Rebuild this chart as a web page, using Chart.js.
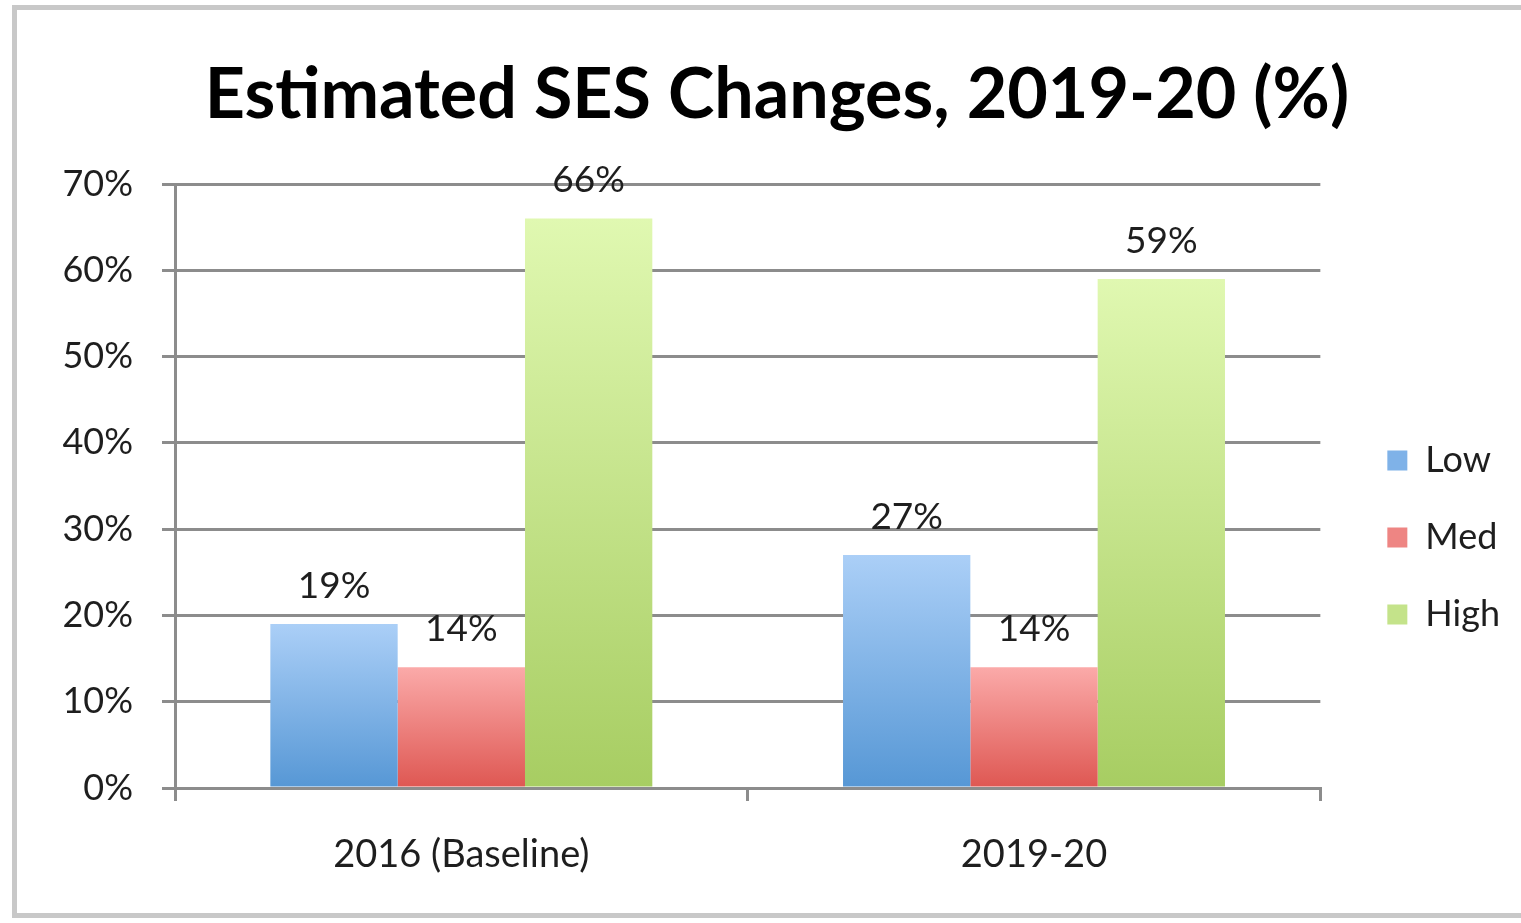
<!DOCTYPE html>
<html>
<head>
<meta charset="utf-8">
<title>Estimated SES Changes</title>
<script src="https://cdn.jsdelivr.net/npm/chart.js@4.4.1/dist/chart.umd.min.js"></script>
<style>
  html, body { margin: 0; padding: 0; background: #fff; overflow: hidden; }
  #frame { position: absolute; left: 12px; top: 5px; width: 1600px; height: 903px; border: 5px solid #c8c8c8; }
  #wrap { position: absolute; left: 0; top: 0; width: 1521px; height: 923px; }
</style>
</head>
<body>
<div id="frame"></div>
<div id="wrap"><canvas id="ses"></canvas></div>
<script>
const categories = ['2016 (Baseline)', '2019-20'];
const seriesNames = ['Low', 'Med', 'High'];
const lowValues = [19, 27];
const medValues = [14, 14];
const highValues = [66, 59];
const yTickValues = [0, 10, 20, 30, 40, 50, 60, 70];

const FONT = 'Lato';
const TEXT = '#1e1e1e';
const GRID = '#8c8c8c';

// top / bottom colours of each bar gradient, plus a flat one for the legend
const colors = [
  { top: '#abcff7', bottom: '#5697d5', flat: '#7fb2e8' },
  { top: '#fbaaa9', bottom: '#de5752', flat: '#ee8583' },
  { top: '#e0f8b1', bottom: '#a7cd62', flat: '#c4e38a' },
];

function barGradient(c) {
  return function (ctx) {
    const chart = ctx.chart;
    if (!chart.chartArea || ctx.type !== 'data') return c.flat;
    const y = chart.scales.y;
    const g = chart.ctx.createLinearGradient(0, y.getPixelForValue(ctx.raw), 0, y.getPixelForValue(0));
    g.addColorStop(0, c.top);
    g.addColorStop(1, c.bottom);
    return g;
  };
}

// value text above each bar
const valueLabels = {
  id: 'valueLabels',
  afterDatasetsDraw(chart) {
    const c = chart.ctx;
    c.save();
    c.font = '37px ' + FONT;
    c.fillStyle = TEXT;
    c.textAlign = 'center';
    c.textBaseline = 'middle';
    chart.data.datasets.forEach((ds, i) => {
      chart.getDatasetMeta(i).data.forEach((bar, j) => {
        c.fillText(ds.data[j] + '%', bar.x, bar.y - 38);
      });
    });
    c.restore();
  }
};

// nudge the legend and title to where the original has them
const LEGEND_DX = 26;
const LEGEND_DY = 76;
const TITLE_DX = 35;
const boxShift = {
  id: 'boxShift',
  afterLayout(chart) {
    const lg = chart.legend;
    lg.left += LEGEND_DX; lg.right += LEGEND_DX;
    lg.top += LEGEND_DY; lg.bottom += LEGEND_DY;
    const t = chart.titleBlock;
    if (t) { t.left += TITLE_DX; t.right += TITLE_DX; }
  }
};

const values = [lowValues, medValues, highValues];

new Chart(document.getElementById('ses'), {
  type: 'bar',
  data: {
    labels: categories,
    datasets: seriesNames.map((name, i) => ({
      label: name,
      data: values[i],
      backgroundColor: barGradient(colors[i]),
      borderWidth: 0,
      categoryPercentage: 0.667,
      barPercentage: 1.0,
    })),
  },
  options: {
    responsive: true,
    maintainAspectRatio: false,
    animation: false,
    layout: { padding: { left: 0, right: 37, top: 0, bottom: 0 } },
    scales: {
      x: {
        grid: { display: true, drawOnChartArea: false, offset: true, color: GRID, lineWidth: 3, tickLength: 13 },
        border: { display: true, color: GRID, width: 3 },
        ticks: { color: TEXT, font: { family: FONT, size: 38 }, padding: 31, maxRotation: 0 },
        afterFit(scale) { scale.height = 135; },
      },
      y: {
        min: 0,
        max: 70,
        afterBuildTicks(scale) { scale.ticks = yTickValues.map(v => ({ value: v })); },
        grid: { color: GRID, lineWidth: 3, tickLength: 13 },
        border: { display: true, color: GRID, width: 3 },
        ticks: {
          color: TEXT,
          font: { family: FONT, size: 36 },
          padding: 29,
          callback: v => v + '%',
        },
        afterFit(scale) { scale.width = 175; },
      },
    },
    plugins: {
      title: {
        display: true,
        text: 'Estimated SES Changes, 2019-20 (%)',
        color: '#000',
        font: { family: FONT, size: 70, weight: 'bold' },
        padding: { top: 53, bottom: 47 },
      },
      legend: {
        display: true,
        position: 'right',
        labels: {
          color: TEXT,
          font: { family: FONT, size: 36 },
          boxWidth: 20,
          boxHeight: 20,
          padding: 41,
          generateLabels(chart) {
            return chart.data.datasets.map((ds, i) => ({
              text: ds.label,
              fillStyle: colors[i].flat,
              strokeStyle: colors[i].flat,
              lineWidth: 0,
              fontColor: TEXT,
              hidden: !chart.isDatasetVisible(i),
              datasetIndex: i,
            }));
          },
        },
      },
      tooltip: { enabled: false },
    },
  },
  plugins: [valueLabels, boxShift],
});
</script>
</body>
</html>
